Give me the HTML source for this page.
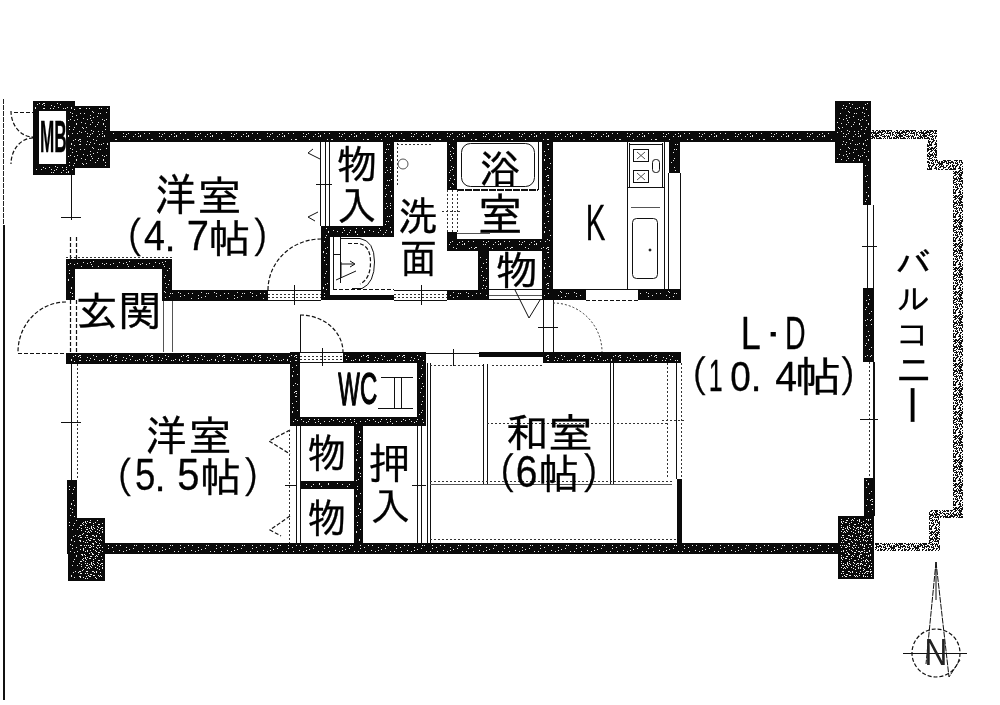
<!DOCTYPE html>
<html lang="ja">
<head>
<meta charset="utf-8">
<title>間取り図</title>
<style>
html,body{margin:0;padding:0;background:#fff;}
body{width:1000px;height:705px;overflow:hidden;}
svg{display:block;}
#texts{opacity:.999;}
text{font-family:"Liberation Sans","IPAGothic","Noto Sans CJK JP",sans-serif;fill:#000;}
#texts text{stroke:#000;stroke-width:0.7;stroke-linejoin:round;}
#texts text.lat{stroke-width:3.2;}
#texts text.thin{stroke:none;fill:#222;}
.w{fill:url(#st);}
.w2{fill:url(#st2);}
.l{stroke:#111;stroke-width:1;fill:none;}
.g{stroke:#555;stroke-width:1;fill:none;}
.d{stroke:#111;stroke-width:1.2;fill:none;stroke-dasharray:4 2;}
.dd{stroke:#333;stroke-width:1;fill:none;stroke-dasharray:2 2;}
.b{fill:url(#bal);}
</style>
</head>
<body>
<svg width="1000" height="705" viewBox="0 0 1000 705">
<defs>
<pattern id="st" width="36" height="36" patternUnits="userSpaceOnUse"><path d="M2,1h1v1h-1zM7,0h1v1h-1zM8,0h1v1h-1zM14,0h1v1h-1zM17,0h1v1h-1zM20,3h1v1h-1zM27,0h1v1h-1zM29,0h1v1h-1zM35,0h1v1h-1zM0,5h1v1h-1zM4,7h1v1h-1zM8,5h1v1h-1zM12,5h1v1h-1zM18,7h1v1h-1zM21,4h1v1h-1zM26,5h1v1h-1zM28,5h1v1h-1zM34,4h1v1h-1zM0,8h1v1h-1zM5,11h1v1h-1zM11,10h1v1h-1zM15,11h1v1h-1zM18,10h1v1h-1zM21,9h1v1h-1zM25,8h1v1h-1zM30,11h1v1h-1zM34,11h1v1h-1zM2,12h1v1h-1zM4,15h1v1h-1zM9,14h1v1h-1zM13,15h1v1h-1zM19,12h1v1h-1zM20,14h1v1h-1zM26,14h1v1h-1zM31,15h1v1h-1zM32,12h1v1h-1zM2,19h1v1h-1zM4,16h1v1h-1zM10,19h1v1h-1zM14,19h1v1h-1zM18,16h1v1h-1zM23,18h1v1h-1zM25,16h1v1h-1zM31,16h1v1h-1zM33,18h1v1h-1zM1,21h1v1h-1zM7,23h1v1h-1zM11,20h1v1h-1zM13,23h1v1h-1zM19,22h1v1h-1zM21,23h1v1h-1zM26,23h1v1h-1zM30,23h1v1h-1zM33,21h1v1h-1zM0,25h1v1h-1zM5,25h1v1h-1zM9,24h1v1h-1zM15,25h1v1h-1zM18,26h1v1h-1zM20,25h1v1h-1zM27,26h1v1h-1zM30,25h1v1h-1zM32,27h1v1h-1zM3,31h1v1h-1zM7,31h1v1h-1zM8,31h1v1h-1zM15,28h1v1h-1zM17,28h1v1h-1zM21,31h1v1h-1zM25,28h1v1h-1zM30,28h1v1h-1zM32,28h1v1h-1zM1,32h1v1h-1zM6,32h1v1h-1zM8,33h1v1h-1zM15,33h1v1h-1zM18,34h1v1h-1zM22,35h1v1h-1zM24,32h1v1h-1zM31,35h1v1h-1zM35,35h1v1h-1z" fill="#e8e8e8"/></pattern>
<pattern id="st2" width="36" height="36" patternUnits="userSpaceOnUse"><path d="M1,0h1v1h-1zM3,0h1v1h-1zM8,1h1v1h-1zM11,1h1v1h-1zM13,2h1v1h-1zM15,2h1v1h-1zM18,0h1v1h-1zM23,1h1v1h-1zM24,2h1v1h-1zM29,0h1v1h-1zM32,1h1v1h-1zM35,0h1v1h-1zM2,4h1v1h-1zM5,4h1v1h-1zM6,4h1v1h-1zM9,5h1v1h-1zM14,5h1v1h-1zM16,5h1v1h-1zM18,5h1v1h-1zM21,3h1v1h-1zM25,5h1v1h-1zM27,3h1v1h-1zM32,4h1v1h-1zM34,5h1v1h-1zM0,6h1v1h-1zM4,7h1v1h-1zM7,6h1v1h-1zM11,8h1v1h-1zM13,7h1v1h-1zM17,7h1v1h-1zM19,6h1v1h-1zM21,6h1v1h-1zM24,7h1v1h-1zM27,7h1v1h-1zM30,7h1v1h-1zM35,8h1v1h-1zM0,10h1v1h-1zM5,10h1v1h-1zM8,9h1v1h-1zM11,9h1v1h-1zM13,11h1v1h-1zM15,10h1v1h-1zM18,10h1v1h-1zM23,10h1v1h-1zM24,11h1v1h-1zM28,10h1v1h-1zM31,11h1v1h-1zM33,11h1v1h-1zM0,12h1v1h-1zM3,12h1v1h-1zM6,14h1v1h-1zM10,14h1v1h-1zM12,14h1v1h-1zM17,13h1v1h-1zM20,13h1v1h-1zM21,14h1v1h-1zM26,12h1v1h-1zM27,12h1v1h-1zM32,14h1v1h-1zM33,14h1v1h-1zM2,15h1v1h-1zM4,15h1v1h-1zM6,15h1v1h-1zM10,15h1v1h-1zM13,17h1v1h-1zM15,17h1v1h-1zM19,16h1v1h-1zM23,16h1v1h-1zM24,15h1v1h-1zM29,16h1v1h-1zM31,17h1v1h-1zM35,17h1v1h-1zM1,20h1v1h-1zM3,20h1v1h-1zM6,20h1v1h-1zM11,18h1v1h-1zM13,18h1v1h-1zM17,18h1v1h-1zM18,18h1v1h-1zM21,19h1v1h-1zM26,20h1v1h-1zM27,20h1v1h-1zM30,19h1v1h-1zM35,20h1v1h-1zM2,23h1v1h-1zM4,21h1v1h-1zM8,21h1v1h-1zM9,21h1v1h-1zM13,21h1v1h-1zM15,23h1v1h-1zM19,23h1v1h-1zM21,21h1v1h-1zM25,22h1v1h-1zM29,23h1v1h-1zM32,23h1v1h-1zM33,23h1v1h-1zM1,25h1v1h-1zM5,26h1v1h-1zM7,26h1v1h-1zM9,26h1v1h-1zM14,25h1v1h-1zM17,24h1v1h-1zM19,24h1v1h-1zM22,24h1v1h-1zM25,25h1v1h-1zM28,24h1v1h-1zM32,24h1v1h-1zM34,24h1v1h-1zM0,29h1v1h-1zM4,27h1v1h-1zM6,29h1v1h-1zM11,29h1v1h-1zM13,27h1v1h-1zM16,27h1v1h-1zM19,27h1v1h-1zM23,27h1v1h-1zM25,28h1v1h-1zM27,29h1v1h-1zM30,27h1v1h-1zM35,28h1v1h-1zM2,31h1v1h-1zM4,31h1v1h-1zM6,31h1v1h-1zM10,30h1v1h-1zM14,31h1v1h-1zM15,31h1v1h-1zM20,31h1v1h-1zM22,32h1v1h-1zM24,31h1v1h-1zM28,32h1v1h-1zM32,31h1v1h-1zM35,30h1v1h-1zM0,33h1v1h-1zM3,33h1v1h-1zM7,34h1v1h-1zM9,33h1v1h-1zM13,33h1v1h-1zM16,35h1v1h-1zM19,34h1v1h-1zM21,35h1v1h-1zM26,35h1v1h-1zM28,35h1v1h-1zM31,33h1v1h-1zM34,33h1v1h-1z" fill="#f0f0f0"/></pattern>
<pattern id="bal" width="24" height="24" patternUnits="userSpaceOnUse"><rect width="24" height="24" fill="#111"/><path d="M1,0h1v1h-1zM3,0h1v1h-1zM4,0h1v1h-1zM5,0h1v1h-1zM6,0h1v1h-1zM8,0h1v1h-1zM9,0h1v1h-1zM10,0h1v1h-1zM11,0h1v1h-1zM13,0h1v1h-1zM16,0h1v1h-1zM20,0h1v1h-1zM21,0h1v1h-1zM1,1h1v1h-1zM4,1h1v1h-1zM7,1h1v1h-1zM8,1h1v1h-1zM12,1h1v1h-1zM20,1h1v1h-1zM21,1h1v1h-1zM22,1h1v1h-1zM23,1h1v1h-1zM2,2h1v1h-1zM6,2h1v1h-1zM10,2h1v1h-1zM12,2h1v1h-1zM17,2h1v1h-1zM18,2h1v1h-1zM19,2h1v1h-1zM20,2h1v1h-1zM21,2h1v1h-1zM22,2h1v1h-1zM0,3h1v1h-1zM1,3h1v1h-1zM3,3h1v1h-1zM4,3h1v1h-1zM5,3h1v1h-1zM6,3h1v1h-1zM7,3h1v1h-1zM9,3h1v1h-1zM11,3h1v1h-1zM13,3h1v1h-1zM15,3h1v1h-1zM16,3h1v1h-1zM18,3h1v1h-1zM21,3h1v1h-1zM4,4h1v1h-1zM6,4h1v1h-1zM17,4h1v1h-1zM23,4h1v1h-1zM0,5h1v1h-1zM3,5h1v1h-1zM5,5h1v1h-1zM6,5h1v1h-1zM8,5h1v1h-1zM9,5h1v1h-1zM11,5h1v1h-1zM14,5h1v1h-1zM20,5h1v1h-1zM22,5h1v1h-1zM2,6h1v1h-1zM4,6h1v1h-1zM5,6h1v1h-1zM7,6h1v1h-1zM9,6h1v1h-1zM13,6h1v1h-1zM17,6h1v1h-1zM18,6h1v1h-1zM21,6h1v1h-1zM2,7h1v1h-1zM3,7h1v1h-1zM5,7h1v1h-1zM6,7h1v1h-1zM10,7h1v1h-1zM13,7h1v1h-1zM14,7h1v1h-1zM16,7h1v1h-1zM17,7h1v1h-1zM20,7h1v1h-1zM21,7h1v1h-1zM22,7h1v1h-1zM1,8h1v1h-1zM2,8h1v1h-1zM5,8h1v1h-1zM7,8h1v1h-1zM8,8h1v1h-1zM9,8h1v1h-1zM10,8h1v1h-1zM11,8h1v1h-1zM12,8h1v1h-1zM13,8h1v1h-1zM15,8h1v1h-1zM16,8h1v1h-1zM18,8h1v1h-1zM19,8h1v1h-1zM20,8h1v1h-1zM22,8h1v1h-1zM2,9h1v1h-1zM3,9h1v1h-1zM6,9h1v1h-1zM9,9h1v1h-1zM13,9h1v1h-1zM15,9h1v1h-1zM18,9h1v1h-1zM19,9h1v1h-1zM21,9h1v1h-1zM23,9h1v1h-1zM4,10h1v1h-1zM5,10h1v1h-1zM6,10h1v1h-1zM7,10h1v1h-1zM10,10h1v1h-1zM11,10h1v1h-1zM14,10h1v1h-1zM16,10h1v1h-1zM21,10h1v1h-1zM1,11h1v1h-1zM2,11h1v1h-1zM4,11h1v1h-1zM5,11h1v1h-1zM7,11h1v1h-1zM8,11h1v1h-1zM10,11h1v1h-1zM12,11h1v1h-1zM13,11h1v1h-1zM17,11h1v1h-1zM22,11h1v1h-1zM0,12h1v1h-1zM3,12h1v1h-1zM6,12h1v1h-1zM12,12h1v1h-1zM19,12h1v1h-1zM20,12h1v1h-1zM22,12h1v1h-1zM3,13h1v1h-1zM5,13h1v1h-1zM6,13h1v1h-1zM8,13h1v1h-1zM15,13h1v1h-1zM16,13h1v1h-1zM18,13h1v1h-1zM19,13h1v1h-1zM21,13h1v1h-1zM0,14h1v1h-1zM1,14h1v1h-1zM3,14h1v1h-1zM6,14h1v1h-1zM7,14h1v1h-1zM9,14h1v1h-1zM10,14h1v1h-1zM13,14h1v1h-1zM14,14h1v1h-1zM16,14h1v1h-1zM20,14h1v1h-1zM21,14h1v1h-1zM22,14h1v1h-1zM23,14h1v1h-1zM1,15h1v1h-1zM3,15h1v1h-1zM5,15h1v1h-1zM7,15h1v1h-1zM9,15h1v1h-1zM15,15h1v1h-1zM18,15h1v1h-1zM19,15h1v1h-1zM21,15h1v1h-1zM23,15h1v1h-1zM2,16h1v1h-1zM3,16h1v1h-1zM4,16h1v1h-1zM5,16h1v1h-1zM6,16h1v1h-1zM10,16h1v1h-1zM15,16h1v1h-1zM16,16h1v1h-1zM17,16h1v1h-1zM22,16h1v1h-1zM0,17h1v1h-1zM2,17h1v1h-1zM4,17h1v1h-1zM7,17h1v1h-1zM11,17h1v1h-1zM13,17h1v1h-1zM14,17h1v1h-1zM17,17h1v1h-1zM18,17h1v1h-1zM19,17h1v1h-1zM21,17h1v1h-1zM22,17h1v1h-1zM0,18h1v1h-1zM4,18h1v1h-1zM9,18h1v1h-1zM11,18h1v1h-1zM18,18h1v1h-1zM20,18h1v1h-1zM22,18h1v1h-1zM0,19h1v1h-1zM1,19h1v1h-1zM7,19h1v1h-1zM8,19h1v1h-1zM9,19h1v1h-1zM13,19h1v1h-1zM15,19h1v1h-1zM16,19h1v1h-1zM18,19h1v1h-1zM22,19h1v1h-1zM23,19h1v1h-1zM2,20h1v1h-1zM7,20h1v1h-1zM8,20h1v1h-1zM9,20h1v1h-1zM10,20h1v1h-1zM11,20h1v1h-1zM13,20h1v1h-1zM14,20h1v1h-1zM15,20h1v1h-1zM17,20h1v1h-1zM18,20h1v1h-1zM19,20h1v1h-1zM20,20h1v1h-1zM23,20h1v1h-1zM1,21h1v1h-1zM2,21h1v1h-1zM4,21h1v1h-1zM6,21h1v1h-1zM8,21h1v1h-1zM9,21h1v1h-1zM12,21h1v1h-1zM13,21h1v1h-1zM15,21h1v1h-1zM19,21h1v1h-1zM22,21h1v1h-1zM23,21h1v1h-1zM0,22h1v1h-1zM1,22h1v1h-1zM3,22h1v1h-1zM8,22h1v1h-1zM9,22h1v1h-1zM11,22h1v1h-1zM12,22h1v1h-1zM15,22h1v1h-1zM18,22h1v1h-1zM21,22h1v1h-1zM22,22h1v1h-1zM1,23h1v1h-1zM2,23h1v1h-1zM5,23h1v1h-1zM6,23h1v1h-1zM10,23h1v1h-1zM11,23h1v1h-1zM14,23h1v1h-1zM15,23h1v1h-1zM16,23h1v1h-1zM18,23h1v1h-1zM20,23h1v1h-1zM21,23h1v1h-1zM22,23h1v1h-1z" fill="#fff"/></pattern>
</defs>
<rect width="1000" height="705" fill="#fff"/>

<!-- WALLS -->
<g fill="#0a0a0a" shape-rendering="crispEdges" id="walls">
<!-- MB -->
<rect x="33" y="101" width="42" height="10"/>
<rect x="33" y="164" width="42" height="11"/>
<rect x="33" y="101" width="3" height="74"/>
<rect x="36" y="111" width="3" height="53"/>
<!-- pillars -->
<rect x="66" y="106" width="44" height="62"/>
<rect x="835" y="101" width="36" height="62"/>
<rect x="838" y="516" width="36" height="63"/>
<rect x="68" y="518" width="37" height="63"/>
<!-- outer walls -->
<rect x="110" y="131" width="725" height="11"/>
<rect x="105" y="543" width="733" height="11"/>
<rect x="863" y="163" width="8" height="42"/>
<rect x="863" y="288" width="11" height="74"/>
<rect x="864" y="478" width="11" height="38"/>
<rect x="67" y="480" width="10" height="74"/>
<!-- genkan -->
<rect x="66" y="259" width="106" height="10"/>
<rect x="66" y="259" width="9" height="41"/>
<rect x="162" y="259" width="10" height="41"/>
<rect x="162" y="290" width="106" height="11"/>
<!-- mid horizontal -->
<rect x="66" y="353" width="234" height="11"/>
<rect x="343" y="352" width="83" height="11"/>
<rect x="479" y="352" width="64" height="5"/>
<rect x="543" y="352" width="138" height="11"/>
<!-- WC -->
<rect x="290" y="352" width="10" height="74"/>
<rect x="290" y="417" width="136" height="9"/>
<rect x="417" y="352" width="9" height="74"/>
<!-- closets south -->
<rect x="354" y="426" width="9" height="118"/>
<rect x="300" y="481" width="54" height="8"/>
<!-- monoire -->
<rect x="383" y="142" width="11" height="95"/>
<rect x="321" y="226" width="73" height="11"/>
<rect x="321" y="226" width="9" height="74"/>
<rect x="330" y="295" width="64" height="5"/>
<!-- bath -->
<rect x="447" y="142" width="10" height="48"/>
<rect x="447" y="239" width="106" height="12"/>
<rect x="447" y="232" width="10" height="8"/>
<rect x="542" y="142" width="11" height="158"/>
<rect x="478" y="251" width="11" height="49"/>
<rect x="447" y="290" width="42" height="10"/>
<!-- kitchen -->
<rect x="553" y="289" width="33" height="11"/>
<rect x="638" y="289" width="43" height="11"/>
<rect x="669" y="141" width="11" height="32"/>
<!-- washitsu right thin -->
<rect x="677" y="479" width="5" height="65"/>
</g>
<g class="w" shape-rendering="crispEdges" id="wallsov">
<rect x="35" y="103" width="38" height="6"/>
<rect x="35" y="166" width="38" height="7"/>
<rect x="68" y="108" width="40" height="58"/>
<rect x="837" y="103" width="32" height="58"/>
<rect x="840" y="518" width="32" height="59"/>
<rect x="70" y="520" width="33" height="59"/>
<rect x="112" y="133" width="721" height="7"/>
<rect x="107" y="545" width="729" height="7"/>
<rect x="865" y="165" width="4" height="38"/>
<rect x="865" y="290" width="7" height="70"/>
<rect x="866" y="480" width="7" height="34"/>
<rect x="69" y="482" width="6" height="70"/>
<rect x="68" y="261" width="102" height="6"/>
<rect x="68" y="261" width="5" height="37"/>
<rect x="164" y="261" width="6" height="37"/>
<rect x="164" y="292" width="102" height="7"/>
<rect x="68" y="355" width="230" height="7"/>
<rect x="345" y="354" width="79" height="7"/>
<rect x="545" y="354" width="134" height="7"/>
<rect x="292" y="354" width="6" height="70"/>
<rect x="292" y="419" width="132" height="5"/>
<rect x="419" y="354" width="5" height="70"/>
<rect x="356" y="428" width="5" height="114"/>
<rect x="302" y="483" width="50" height="4"/>
<rect x="385" y="144" width="7" height="91"/>
<rect x="323" y="228" width="69" height="7"/>
<rect x="323" y="228" width="5" height="70"/>
<rect x="449" y="144" width="6" height="44"/>
<rect x="449" y="241" width="102" height="8"/>
<rect x="449" y="234" width="6" height="4"/>
<rect x="544" y="144" width="7" height="154"/>
<rect x="480" y="253" width="7" height="45"/>
<rect x="449" y="292" width="38" height="6"/>
<rect x="555" y="291" width="29" height="7"/>
<rect x="640" y="291" width="39" height="7"/>
<rect x="671" y="143" width="7" height="28"/>
</g>
<g class="w2" shape-rendering="crispEdges">
<rect x="841" y="519" width="31" height="58"/>
<rect x="80" y="521" width="23" height="58"/>
</g>

<!-- BALCONY -->
<g shape-rendering="crispEdges">
<path class="b" d="M871,130H937V160H963V518H940V551H875V543H929V510H953V170H927V139H871Z"/>
</g>

<!-- LEFT BORDER -->
<g shape-rendering="crispEdges">
<path d="M3.5,99V225" stroke="#222" stroke-width="1" stroke-dasharray="5 1" fill="none"/>
<rect x="3" y="225" width="2" height="475" fill="#111"/>
</g>

<g id="lines">
<g class="l" shape-rendering="crispEdges">
<!-- left wall thin -->
<path d="M71.5,175V220M61,217.5H81"/>
<path d="M71.5,364V480M61,422.5H81"/>
<path class="g" d="M163.5,301V352M172.5,301V352"/>
<!-- MB inner -->
<path d="M66.5,111V164"/>
<!-- closet door lines -->
<path d="M320.5,142V226M325.5,142V226M329.5,142V226"/>
<!-- bath -->
<path d="M538.5,142V190"/>
<path d="M457,190H538" stroke-width="2" stroke-dasharray="7 1"/>
<path class="g" d="M457,233.5H490"/>
<!-- kitchen -->
<path d="M627.5,142V289M664.5,142V289M668.5,173V289M680.5,173V289"/>
<path d="M627,187.5H664"/>
<path class="g" d="M631,207.5H660"/>
<path d="M586,289.5H638"/>
<path d="M629.5,143V187M629,144.5H663M662.5,143V187"/>
<!-- corridor verticals -->
<path d="M543.5,300V352M553.5,300V352M538,327.5H558"/>
<!-- corridor door -->
<path d="M300.5,315V352"/>
<!-- 物 closet doors -->
<path d="M489,289.5H542M489,299.5H542"/>
<path class="g" d="M489,295.5H542"/>
<!-- sliding doors horizontal -->
<path d="M268,290.5H321M268,300.5H321M294.5,285V305"/>
<path d="M394,290.5H447M394,300.5H447M421.5,285V305"/>
<path d="M300,352.5H343M300,362.5H343M322.5,348V366"/>
<!-- washitsu -->
<path d="M427.5,363V544M430.5,363V544"/>
<path d="M426,353.5H479M453.5,349V366"/>
<path d="M483.5,364V484M487.5,364V484"/>
<path d="M610.5,363V484M613.5,363V484"/>
<path class="g" d="M430,484.5H672"/>
<path d="M676.5,363V479"/>
<!-- south closets -->
<path d="M296.5,426V544M300.5,426V544"/>
<path d="M417.5,426V544M421.5,426V544"/>
<path d="M412,485.5H426"/>
<!-- WC symbol -->
<path d="M381,377.5H413M394.5,377V408M401.5,377V408M378,408.5H413"/>
<!-- right windows -->
<path d="M867.5,205V288M873.5,205V288M862,246.5H877"/>
<path d="M874,362V478" stroke-width="2"/><path class="dd" d="M869.5,362V478"/><path d="M860,419.5H878"/>
</g>
<g class="d">
<path d="M70.5,237V259M76.5,237V259"/>
<path d="M70.5,300V353M76.5,300V353"/>
<path d="M77.5,364V480" class="dd"/>
<path d="M18,353.5H66"/>
<path d="M11,111A22,26 0 0 0 33,137M33,138A22,26 0 0 0 11,164M14,112.5H33"/>
<path d="M66,302A48,50 0 0 0 18,352"/>
<path d="M268,290A53,51 0 0 1 321,239"/>
<path d="M300,315A43,37 0 0 1 343,352"/>
<path class="dd" d="M553,303A49,49 0 0 1 602,352"/>
<path d="M586,300.5H638"/>
<path class="dd" d="M268,294.5H321M268,297.5H321"/>
<path class="dd" d="M394,294.5H447M394,297.5H447"/>
<path class="dd" d="M300,356.5H343M300,359.5H343"/>
<path class="dd" d="M447.5,190V232M452.5,190V232M457.5,190V232M442,211.5H462"/>
<path class="dd" d="M430,365.5H483M492,365.5H543"/>
<path class="dd" d="M487,423.5H610M613,423.5H667"/>
<path class="dd" d="M430,481.5H672"/>
<path class="dd" d="M430,539.5H677"/>
<path class="dd" d="M667.5,363V479M681.5,363V479M662,420.5H686"/>
<path class="dd" d="M66,257.5H172"/>
</g>
<g class="l">
<!-- markers -->
<path d="M313,149L308,153L320,159M318,212L308,217L315,221M316,184.5H332"/>
<path class="dd" d="M397.5,143V187M397,144.5H432" stroke="#888"/>
<path d="M290,430L269,441L290,454M290,516L270,530L281,536" class="d"/>
<path d="M289.5,430V543" class="dd"/><path d="M285,485.5H296"/>
<path d="M515,290L529,318L540,300"/>
<circle cx="403" cy="164" r="5" class="g"/>
<!-- bathtub -->
<rect x="461.5" y="143.5" width="73" height="43" rx="9"/>
<!-- stove burners -->
<rect x="633.5" y="149.5" width="15" height="12"/><path d="M637,152L645,159M645,152L637,159" class="g"/>
<rect x="633.5" y="170.5" width="15" height="12"/><path d="M637,173L645,180M645,173L637,180" class="g"/>
<rect x="652.5" y="159.5" width="7" height="13" rx="3"/>
<!-- sink -->
<rect x="632.5" y="218.5" width="25" height="60" rx="4"/>
<circle cx="650" cy="250" r="1" fill="#222"/>
<!-- basin -->
<path d="M333.5,237V290M340.5,237V283M333,254.5H341"/>
<path d="M341,238.5H360Q374.5,241 374.5,262Q374.5,283 362,288.5H352"/>
<path class="d" d="M348,243.5H359Q370.5,246 370.5,262Q370.5,279 360,284"/>
<path d="M341,264H354M350,261L355,264L350,267M336,280L356,271M341,262V278"/>
<path class="d" d="M333,289.5H394"/>
<!-- compass -->
<circle cx="936" cy="653" r="24" class="d"/>
<path d="M903,653.5H967"/>
<path d="M936,562L926,664M936,562L949,677L960,660" stroke-dasharray="6 1"/>
<path d="M936,562V600" />
</g>
</g>

<g id="texts">
<text font-size="100" transform="matrix(0.4132 0 0 0.4533 154.73 210.83)">洋</text>
<text font-size="100" transform="matrix(0.4455 0 0 0.4182 197.33 210.73)">室</text>
<text font-size="100" transform="matrix(0.3714 0 0 0.4267 106.26 253.41)">（</text>
<text font-size="100" transform="matrix(0.3765 0 0 0.4343 144.05 250.00)">4</text>
<text font-size="100" transform="matrix(0.4000 0 0 0.4091 164.40 250.50)">.</text>
<text font-size="100" transform="matrix(0.4000 0 0 0.4343 186.80 250.00)">7</text>
<text font-size="100" transform="matrix(0.4230 0 0 0.4000 208.24 252.80)">帖</text>
<text font-size="100" transform="matrix(0.3714 0 0 0.4267 251.80 253.41)">）</text>
<text font-size="100" transform="matrix(0.4067 0 0 0.4011 336.87 178.69)">物</text>
<text font-size="100" transform="matrix(0.3989 0 0 0.4048 336.81 220.57)">入</text>
<text font-size="100" transform="matrix(0.4000 0 0 0.4054 398.00 231.46)">洗</text>
<text font-size="100" transform="matrix(0.3667 0 0 0.4096 400.17 273.13)">面</text>
<text font-size="100" transform="matrix(0.4110 0 0 0.4000 479.13 182.60)">浴</text>
<text font-size="100" transform="matrix(0.4500 0 0 0.4511 477.70 231.20)">室</text>
<text font-size="100" transform="matrix(0.4225 0 0 0.4011 495.71 284.69)">物</text>
<text font-size="100" transform="matrix(0.2948 0 0 0.4942 585.84 239.90)">K</text>
<text font-size="100" transform="matrix(0.3600 0 0 0.4565 740.72 348.50)">L</text>
<text font-size="100" transform="matrix(0.3714 0 0 0.3357 754.83 347.41)">・</text>
<text font-size="100" transform="matrix(0.2850 0 0 0.4565 785.12 348.50)">D</text>
<text font-size="100" transform="matrix(0.3714 0 0 0.4333 671.06 391.97)">（</text>
<text font-size="100" transform="matrix(0.2500 0 0 0.4406 708.75 391.20)">1</text>
<text font-size="100" transform="matrix(0.3694 0 0 0.4282 730.19 390.77)">0</text>
<text font-size="100" transform="matrix(0.4000 0 0 0.4273 750.40 391.20)">.</text>
<text font-size="100" transform="matrix(0.3922 0 0 0.4343 775.22 391.20)">4</text>
<text font-size="100" transform="matrix(0.4701 0 0 0.4222 794.51 392.04)">帖</text>
<text font-size="100" transform="matrix(0.3750 0 0 0.4333 838.88 391.97)">）</text>
<text font-size="100" transform="matrix(0.4244 0 0 0.4091 75.53 326.05)">玄</text>
<text font-size="100" transform="matrix(0.4337 0 0 0.4138 118.03 326.10)">関</text>
<text font-size="100" transform="matrix(0.4132 0 0 0.4267 145.53 451.01)">洋</text>
<text font-size="100" transform="matrix(0.4364 0 0 0.4182 188.18 450.73)">室</text>
<text font-size="100" transform="matrix(0.3714 0 0 0.4267 96.26 492.61)">（</text>
<text font-size="100" transform="matrix(0.3667 0 0 0.4457 134.93 489.55)">5</text>
<text font-size="100" transform="matrix(0.4000 0 0 0.4091 154.40 490.50)">.</text>
<text font-size="100" transform="matrix(0.4000 0 0 0.4457 177.20 489.55)">5</text>
<text font-size="100" transform="matrix(0.4138 0 0 0.4089 199.90 491.94)">帖</text>
<text font-size="100" transform="matrix(0.3714 0 0 0.4333 242.60 492.97)">）</text>
<text font-size="100" class="lat" transform="matrix(0.2284 0 0 0.4623 338.30 404.60)">W</text>
<text font-size="100" class="lat" transform="matrix(0.2391 0 0 0.4493 360.10 404.15)">C</text>
<text font-size="100" transform="matrix(0.3865 0 0 0.4066 307.45 468.15)">物</text>
<text font-size="100" transform="matrix(0.3865 0 0 0.4066 307.45 533.15)">物</text>
<text font-size="100" transform="matrix(0.4205 0 0 0.4267 368.52 479.41)">押</text>
<text font-size="100" transform="matrix(0.4057 0 0 0.3929 369.96 520.64)">入</text>
<text font-size="100" transform="matrix(0.4291 0 0 0.4069 505.55 446.75)">和</text>
<text font-size="100" transform="matrix(0.4511 0 0 0.4102 548.29 447.96)">室</text>
<text font-size="100" transform="matrix(0.3786 0 0 0.4333 478.19 489.17)">（</text>
<text font-size="100" transform="matrix(0.3894 0 0 0.4394 515.75 486.76)">6</text>
<text font-size="100" transform="matrix(0.4080 0 0 0.4178 538.14 489.28)">帖</text>
<text font-size="100" transform="matrix(0.3821 0 0 0.4333 581.62 488.97)">）</text>
<text font-size="100" transform="matrix(0.3589 0 0 0.3192 895.35 274.85)">バ</text>
<text font-size="100" transform="matrix(0.3337 0 0 0.2973 896.63 309.70)">ル</text>
<text font-size="100" transform="matrix(0.3462 0 0 0.3125 895.31 345.62)">コ</text>
<text font-size="100" transform="matrix(0.3625 0 0 0.3846 895.38 383.85)">ニ</text>
<text font-size="100" class="thin" transform="matrix(0.3158 0 0 0.3623 924.47 665.00)">N</text>
<text font-size="41" transform="translate(910.5 405) rotate(90)" text-anchor="middle" dominant-baseline="central" id="chou" style="stroke-width:0.4">ー</text>
<text font-size="100" font-weight="bold" id="mb" transform="matrix(0.172 0 0 0.45 40 152)">MB</text>
</g>
</svg>
</body>
</html>
